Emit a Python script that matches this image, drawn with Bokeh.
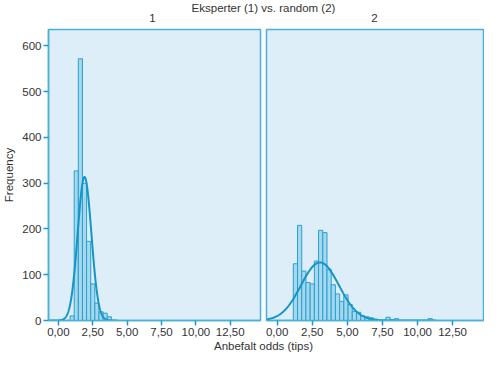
import numpy as np
from bokeh.plotting import figure
from bokeh.layouts import column, row
from bokeh.models import FixedTicker, CustomJSTickFormatter, Label, Range1d
from bokeh.embed import file_html
from bokeh.resources import INLINE

# ---- data ----
bin_width = 0.3
group_labels = ["1", "2"]
bins1_start = 0.85
counts1 = [10, 327, 572, 300, 173, 80, 38, 19, 16, 8]
bins2_start = 1.15
counts2 = [124, 208, 108, 83, 80, 130, 197, 192, 112, 78, 58, 42, 56, 35, 20,
           18, 10, 8, 6, 3, 0, 0, 7, 2, 4, 0, 0, 0, 0, 0, 0, 0, 4]
# normal curves: mean, sd, n
normal1 = (1.90, 0.50, 1310)
normal2 = (3.05, 1.35, 1432)
curve1_span = (-0.72, 4.3)
curve2_span = (-0.76, 11.3)
x_ticks = [0, 2.5, 5, 7.5, 10, 12.5]
y_ticks = [0, 100, 200, 300, 400, 500, 600]
title_text = "Eksperter (1) vs. random (2)"
x_label = "Anbefalt odds (tips)"
y_label = "Frequency"

FONT = "Liberation Sans"
FS = "11.5px"
TXT = "#333333"
TICK = "#1a9ad0"
BORDER = "#4ab0da"
BG = "#ddeef8"
BAR_FILL = "#a5d8ed"
BAR_LINE = "#2a9fd0"
CURVE = "#1495c8"


def style(p):
    p.background_fill_color = BG
    p.border_fill_color = "white"
    p.outline_line_color = BORDER
    p.outline_line_width = 1.5
    p.xgrid.visible = False
    p.ygrid.visible = False
    for ax in p.axis:
        ax.major_tick_in = 0
        ax.major_tick_out = 5
        ax.major_tick_line_color = TICK
        ax.major_tick_line_width = 1.5
        ax.minor_tick_line_color = None
        ax.axis_line_color = BORDER
        ax.axis_line_width = 1.5
        ax.major_label_text_font = FONT
        ax.major_label_text_font_size = FS
        ax.major_label_text_color = TXT
        ax.major_label_standoff = 2
        ax.axis_label_text_font = FONT
        ax.axis_label_text_font_size = FS
        ax.axis_label_text_color = TXT
        ax.axis_label_text_font_style = "normal"
    p.xaxis.ticker = FixedTicker(ticks=x_ticks, minor_ticks=[])
    p.xaxis.formatter = CustomJSTickFormatter(
        code="return tick.toFixed(2).replace('.', ',');")


def panel(p, start, counts, normal, span):
    lefts = [start + i * bin_width for i, c in enumerate(counts) if c > 0]
    tops = [c for c in counts if c > 0]
    rights = [l + bin_width for l in lefts]
    p.quad(left=lefts, right=rights, top=tops, bottom=0,
           fill_color=BAR_FILL, line_color=BAR_LINE, line_width=1)
    m, s, n = normal
    xs = np.linspace(span[0], span[1], 400)
    ys = n * bin_width * np.exp(-0.5 * ((xs - m) / s) ** 2) / (s * np.sqrt(2 * np.pi))
    p.line(xs, ys, line_color=CURVE, line_width=2)


common = dict(output_backend="svg", toolbar_location=None, height=310,
              y_range=Range1d(0, 636), min_border_top=1, min_border_bottom=0)

p1 = figure(width=263, x_range=Range1d(-0.72, 14.7), min_border_left=0,
            min_border_right=3, **common)
style(p1)
p1.yaxis.ticker = FixedTicker(ticks=y_ticks, minor_ticks=[])
p1.yaxis.axis_label = y_label
p1.yaxis.axis_label_standoff = 4
panel(p1, bins1_start, counts1, normal1, curve1_span)

p2 = figure(width=221, x_range=Range1d(-0.76, 14.7), y_axis_location=None,
            min_border_left=3, min_border_right=1, **common)
style(p2)
panel(p2, bins2_start, counts2, normal2, curve2_span)


def text_fig(h):
    f = figure(width=484, height=h, x_range=Range1d(0, 484), y_range=Range1d(0, h),
               output_backend="svg", toolbar_location=None, min_border=0)
    f.axis.visible = False
    f.xgrid.visible = False
    f.ygrid.visible = False
    f.outline_line_color = None
    f.background_fill_color = "white"
    f.border_fill_color = "white"
    return f


top = text_fig(28)
top.add_layout(Label(x=263, y=27, text=title_text, text_align="center",
                     text_baseline="top", text_font=FONT, text_font_size=FS,
                     text_color=TXT))
for cx, lab in zip([152, 374], group_labels):
    top.add_layout(Label(x=cx, y=15, text=lab, text_align="center",
                         text_baseline="top", text_font=FONT,
                         text_font_size=FS, text_color=TXT))

bottom = text_fig(16)
bottom.add_layout(Label(x=263, y=15, text=x_label, text_align="center",
                        text_baseline="top", text_font=FONT,
                        text_font_size=FS, text_color=TXT))

layout = column(top, row(p1, p2, spacing=0), bottom, spacing=0)

open("out.html", "w").write(file_html(layout, INLINE))
